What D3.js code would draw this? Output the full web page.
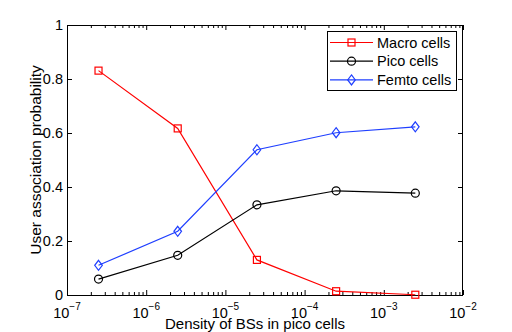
<!DOCTYPE html>
<html><head><meta charset="utf-8">
<script src="https://cdn.jsdelivr.net/npm/d3@7"></script>
<style>
body{margin:0;background:#fff;}
svg{display:block;font-family:"Liberation Sans",Arial,Helvetica,sans-serif;}
</style></head>
<body><svg id="c" width="512" height="332"></svg>
<script>
const densities = [2.5e-7, 2.5e-6, 2.5e-5, 2.5e-4, 2.5e-3];
const macro = [0.831, 0.617, 0.130, 0.014, 0.001];
const pico = [0.059, 0.147, 0.334, 0.386, 0.377];
const femto = [0.110, 0.236, 0.538, 0.601, 0.623];
const seriesNames = ["Macro cells", "Pico cells", "Femto cells"];
const xTickExps = [-7, -6, -5, -4, -3, -2];
const yTicks = [0, 0.2, 0.4, 0.6, 0.8, 1];
const xLabel = "Density of BSs in pico cells";
const yLabel = "User association probability";

const series = [
  {name: seriesNames[0], values: macro, color: "#ff0000", marker: "square"},
  {name: seriesNames[1], values: pico, color: "#000000", marker: "circle"},
  {name: seriesNames[2], values: femto, color: "#1f3fff", marker: "diamond"}
];

const L = 67, T = 25, R = 463, B = 295;
const svg = d3.select("#c");
const x = d3.scaleLog().domain([1e-7, 1e-2]).range([L, R]);
const y = d3.scaleLinear().domain([0, 1]).range([B, T]);

const minors = [];
for (let e = -7; e < -2; e++) for (let k = 2; k <= 9; k++) minors.push(k * Math.pow(10, e));
const majors = xTickExps.map(e => Math.pow(10, e));

function styleAxis(g){ g.select(".domain").remove(); g.selectAll("line").attr("stroke", "#000"); }

svg.append("g").attr("transform", `translate(0,${B})`)
  .call(d3.axisBottom(x).tickValues(minors).tickSize(-3).tickFormat(() => "")).call(styleAxis);
svg.append("g").attr("transform", `translate(0,${T})`)
  .call(d3.axisTop(x).tickValues(minors).tickSize(-3).tickFormat(() => "")).call(styleAxis);
svg.append("g").attr("transform", `translate(0,${B})`)
  .call(d3.axisBottom(x).tickValues(majors).tickSize(-5).tickFormat(() => "")).call(styleAxis);
svg.append("g").attr("transform", `translate(0,${T})`)
  .call(d3.axisTop(x).tickValues(majors).tickSize(-5).tickFormat(() => "")).call(styleAxis);
svg.append("g").attr("transform", `translate(${L},0)`)
  .call(d3.axisLeft(y).tickValues(yTicks).tickSize(-5).tickFormat(() => "")).call(styleAxis);
svg.append("g").attr("transform", `translate(${R},0)`)
  .call(d3.axisRight(y).tickValues(yTicks).tickSize(-5).tickFormat(() => "")).call(styleAxis);

svg.append("rect").attr("x", L + 0.5).attr("y", T + 0.5).attr("width", R - L - 1).attr("height", B - T)
  .attr("fill", "none").attr("stroke", "#000").attr("stroke-width", 1);

// x tick labels (10 with superscript exponent)
const xl = svg.append("g").attr("font-size", 14.5).attr("fill", "#000");
xTickExps.forEach(e => {
  const t = xl.append("text").attr("x", x(Math.pow(10, e))).attr("y", 317.5).attr("text-anchor", "middle");
  t.append("tspan").text("10");
  t.append("tspan").attr("dy", -8).attr("font-size", 10).text("\u2212" + Math.abs(e));
});
// y tick labels
svg.append("g").attr("font-size", 14.5).selectAll("text").data(yTicks).join("text")
  .attr("x", 63).attr("y", d => y(d)).attr("dy", "0.35em").attr("text-anchor", "end")
  .text(d => d === 0 || d === 1 ? d3.format("d")(d) : d3.format(".1f")(d));

// axis labels
svg.append("text").attr("x", 255).attr("y", 329).attr("text-anchor", "middle").attr("font-size", 15).text(xLabel);
svg.append("text").attr("transform", `translate(41,${(T + B) / 2}) rotate(-90)`).attr("text-anchor", "middle")
  .attr("font-size", 15.5).text(yLabel);

function drawMarker(g, type, cx, cy, color){
  if (type === "square") g.append("rect").attr("x", cx - 3.5).attr("y", cy - 3.5).attr("width", 7).attr("height", 7)
    .attr("fill", "none").attr("stroke", color).attr("stroke-width", 1.2);
  else if (type === "circle") g.append("circle").attr("cx", cx).attr("cy", cy).attr("r", 4)
    .attr("fill", "none").attr("stroke", color).attr("stroke-width", 1.2);
  else g.append("path").attr("d", `M${cx},${cy - 5}L${cx + 3.8},${cy}L${cx},${cy + 5}L${cx - 3.8},${cy}Z`)
    .attr("fill", "none").attr("stroke", color).attr("stroke-width", 1.2);
}

const line = d3.line().x(d => x(d[0])).y(d => y(d[1]));
series.forEach(s => {
  const pts = densities.map((d, i) => [d, s.values[i]]);
  const g = svg.append("g");
  g.append("path").attr("d", line(pts)).attr("fill", "none").attr("stroke", s.color).attr("stroke-width", 1.2);
  pts.forEach(p => drawMarker(g, s.marker, x(p[0]), y(p[1]), s.color));
});

// legend
const lg = svg.append("g");
lg.append("rect").attr("x", 327.5).attr("y", 31.5).attr("width", 129).attr("height", 59)
  .attr("fill", "#fff").attr("stroke", "#000");
series.forEach((s, i) => {
  const ly = 42.5 + i * 18.7;
  lg.append("line").attr("x1", 330).attr("x2", 373).attr("y1", ly).attr("y2", ly).attr("stroke", s.color).attr("stroke-width", 1.2);
  drawMarker(lg, s.marker, 351.5, ly, s.color);
  lg.append("text").attr("x", 377).attr("y", ly).attr("dy", "0.36em").attr("font-size", 14.5).text(s.name);
});
</script></body></html>
